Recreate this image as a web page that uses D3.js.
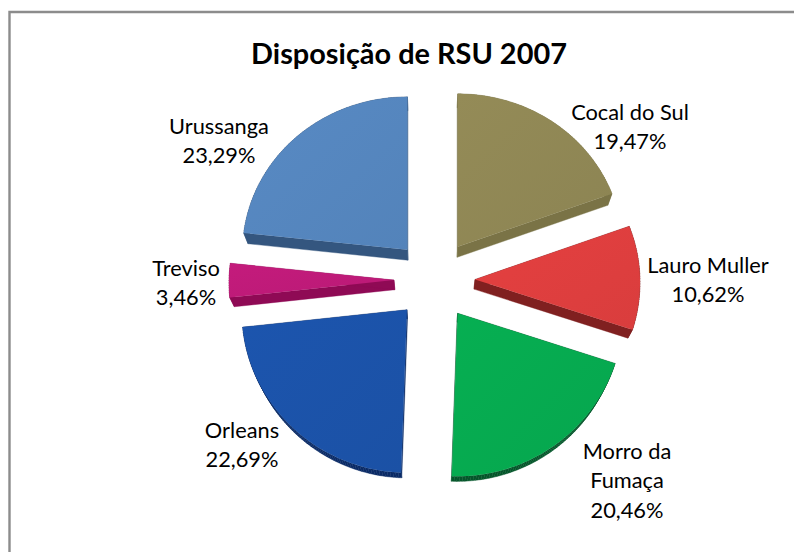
<!DOCTYPE html>
<html><head><meta charset="utf-8">
<script src="https://cdnjs.cloudflare.com/ajax/libs/d3/7.8.5/d3.min.js"></script>
<style>html,body{margin:0;padding:0;background:#fff}svg{display:block}text{font-family:Lato,Carlito,sans-serif;fill:#000}</style>
</head><body><svg id="c" width="794" height="552"></svg>
<script>
const title = "Disposição de RSU 2007";
const categories = ["Cocal do Sul","Lauro Muller","Morro da Fumaça","Orleans","Treviso","Urussanga"];
const values = [19.47,10.62,20.46,22.69,3.46,23.29];
const valueLabels = ["19,47%","10,62%","20,46%","22,69%","3,46%","23,29%"];
const labelLines = [["Cocal do Sul"],["Lauro Muller"],["Morro da","Fumaça"],["Orleans"],["Treviso"],["Urussanga"]];
const topColors = ["#8f8654","#dd3e3e","#06a94f","#1b52a8","#bd1a78","#5585bd"];
const sideColors = ["#7a7346","#802020","#04562a","#0a2a66","#8f0a55","#34567f"];
const labelPos = [[630,120],[708,273],[627,459],[242,438],[186,276],[219,134]];

const svg = d3.select("#c");
svg.append("path").attr("d","M794,12H9.5V552").attr("fill","none").attr("stroke","#8c8c8c").attr("stroke-width",2.4);
svg.append("text").attr("x",409).attr("y",64).attr("text-anchor","middle")
  .attr("font-size",28.9).attr("font-weight",700).text(title);

const cx=434.5, cy=280, explode=40.5, k=0.023, vx=431, vy=700;
const rx = c => 165 - 3*c;
const ry = c => 158 - 5*c;
const arcs = d3.pie().sort(null).value(d=>d)(values);
function outline(s){
  const mid=(s.startAngle+s.endAngle)/2;
  const ox=cx+explode*Math.sin(mid), oy=cy-explode*Math.cos(mid);
  const n=Math.max(4,Math.ceil((s.endAngle-s.startAngle)*60));
  const pts=[[ox,oy]];
  d3.range(n+1).forEach(i=>{
    const t=s.startAngle+(s.endAngle-s.startAngle)*i/n, c=Math.cos(t);
    pts.push([ox+rx(c)*Math.sin(t), oy-ry(c)*c]);
  });
  return pts;
}
const lower = p => [p[0]+(vx-p[0])*k, p[1]+(vy-p[1])*k];
const line = d3.line().curve(d3.curveLinearClosed);
const defs = svg.append("defs");
arcs.forEach((s,i)=>{
  const g=defs.append("linearGradient").attr("id","g"+i).attr("x1",0).attr("y1",0).attr("x2",1).attr("y2",1);
  const base=d3.color(topColors[i]);
  g.append("stop").attr("offset","0%").attr("stop-color",base.brighter(0.1));
  g.append("stop").attr("offset","100%").attr("stop-color",base.darker(0.05));
});
const order=d3.range(arcs.length).sort((a,b)=>outline(arcs[a])[0][1]-outline(arcs[b])[0][1]);
order.forEach(i=>{
  const pts=outline(arcs[i]), g=svg.append("g");
  pts.forEach((p,j)=>{
    const q=pts[(j+1)%pts.length];
    g.append("path").attr("d",line([p,q,lower(q),lower(p)]))
      .attr("fill",sideColors[i]).attr("stroke",sideColors[i]).attr("stroke-width",0.4);
  });
  g.append("path").attr("d",line(pts)).attr("fill",`url(#g${i})`);
});
labelPos.forEach((p,i)=>{
  const lines=[...labelLines[i],valueLabels[i]];
  const t=svg.append("text").attr("text-anchor","middle").attr("font-size",21.8);
  lines.forEach((l,j)=>t.append("tspan").attr("x",p[0]).attr("y",p[1]+j*29.3).text(l));
});
</script></body></html>
